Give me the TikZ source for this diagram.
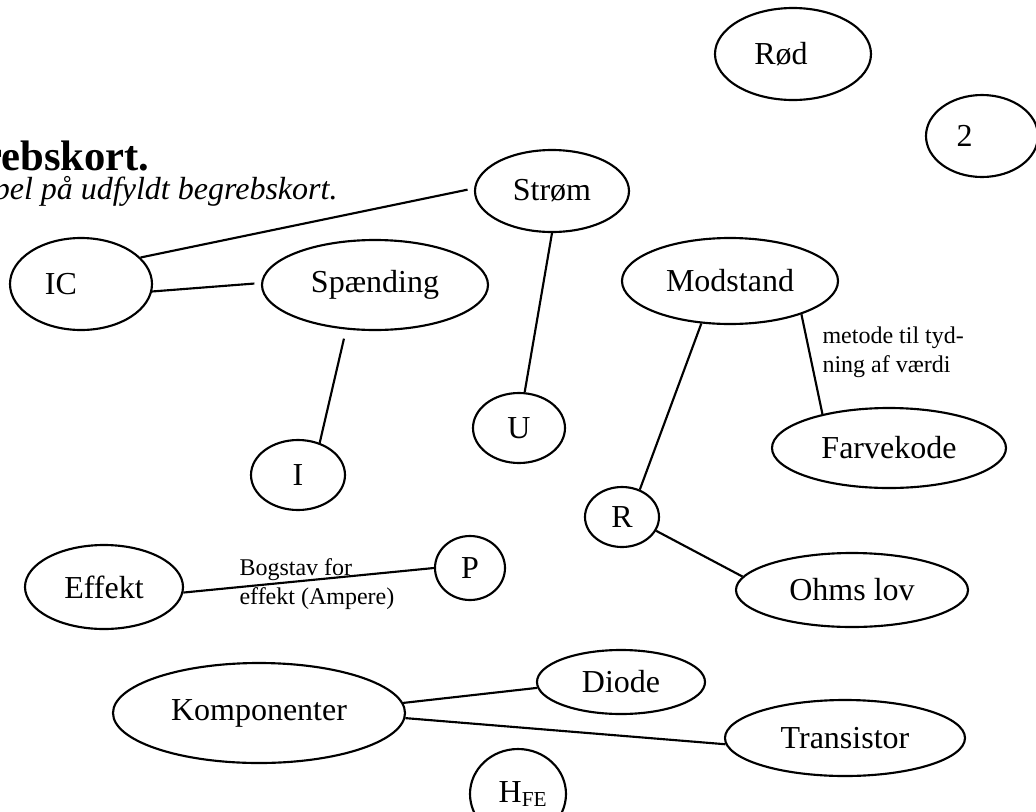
\documentclass[tikz,border=0pt]{standalone}
\usepackage{fontspec}
\setmainfont{Liberation Serif}
\usetikzlibrary{shapes.geometric}
\begin{document}
\begin{tikzpicture}[x=0.375pt,y=-0.375pt,
  oval/.style 2 args={draw, ellipse, line width=0.8pt, inner sep=0pt,
    minimum width=#1*0.375pt, minimum height=#2*0.375pt,
    font=\fontsize{12}{14}\selectfont},
  link/.style={line width=0.8pt},
  note/.style={inner sep=0pt, anchor=north west, align=left,
    font=\fontsize{9}{10.9}\selectfont}]
\useasboundingbox (0,0) rectangle (1036,811);

% headings (partly outside the page)
\node[inner sep=0pt, anchor=base east, font=\fontsize{16}{19}\selectfont\bfseries]
  (title) at (150,170) {Begrebskort.};
\node[inner sep=0pt, anchor=base east, font=\fontsize{12}{14}\selectfont\itshape]
  (sub) at (338,199) {Eksempel på udfyldt begrebskort.};

% concepts
\node[oval={156}{92}]  (rod)      at (793,54)  {Rød\hspace*{9pt}};
\node[oval={112}{82}]  (two)      at (982,136) {2\hspace*{13pt}};
\node[oval={154}{82}]  (strom)    at (552,191) {Strøm};
\node[oval={142}{92}]  (ic)       at (81,284)  {IC\hspace*{15pt}};
\node[oval={226}{90}]  (spaend)   at (375,285) {Spænding};
\node[oval={216}{86}]  (modstand) at (730,281) {Modstand};
\node[oval={92}{70}]   (u)        at (519,428) {U};
\node[oval={94}{70}]   (i)        at (298,475) {I};
\node[oval={234}{80}]  (farve)    at (889,448) {Farvekode};
\node[oval={74}{60}]   (r)        at (622,517) {R};
\node[oval={232}{74}]  (ohms)     at (852,590) {Ohms lov};
\node[oval={158}{84}]  (effekt)   at (104,587) {Effekt};
\node[oval={70}{64}]   (p)        at (470,568) {P};
\node[oval={292}{100}] (komp)     at (259,713) {Komponenter};
\node[oval={168}{64}]  (diode)    at (621,682) {Diode};
\node[oval={240}{76}]  (trans)    at (845,738) {Transistor};
\node[oval={96}{90}]   (hfe)      at (518,794) {H\textsubscript{FE}\hspace*{-4pt}};

% connections
\draw[link, shorten <=2.5pt] (strom.178) -- (ic.24);
\draw[link, shorten >=2.5pt] (ic.-6) -- (spaend.179);
\draw[link, shorten <=3.5pt] (spaend.-123) -- (i.56);
\draw[link] (strom.-90) -- (u.81);
\draw[link] (modstand.-124) -- (r.57);
\draw[link] (modstand.-25) -- (farve.153);
\draw[link] (r.-22) -- (ohms.173);
\draw[link] (effekt.-4) -- (p.180);
\draw[link] (komp.4) -- (diode.184);
\draw[link] (komp.-2) -- (trans.183);

% notes on the links
\node[note] (n1) at (822,326) {metode til tyd-\\ning af værdi};
\node[note] (n2) at (239,558) {Bogstav for\\effekt (Ampere)};
\end{tikzpicture}
\end{document}
